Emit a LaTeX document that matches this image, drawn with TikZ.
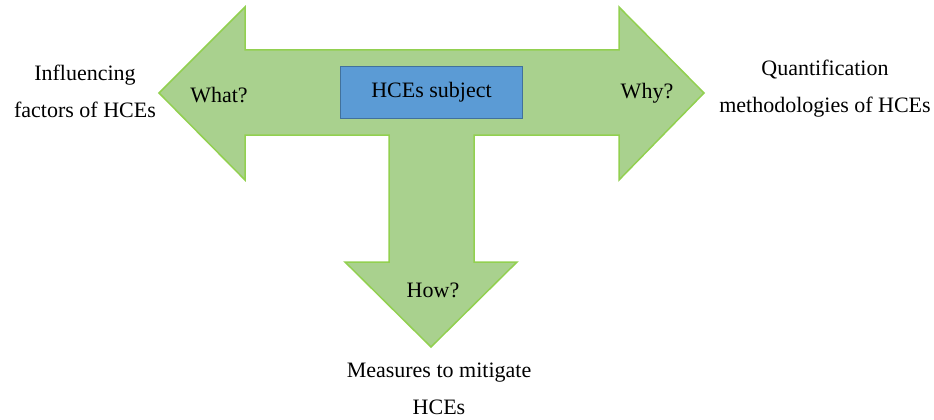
\documentclass[tikz,border=0pt]{standalone}
\usepackage{fontspec}
\setmainfont{Liberation Serif}
\usetikzlibrary{positioning}

\begin{document}
\begin{tikzpicture}[x=1pt, y=-1pt,
    %Looks of the shapes
    inner sep=0pt, outer sep=0pt,%
    bigarrow/.style={fill=arrowfill, draw=arrowline, line width=1.5pt, line join=miter},
    subjectbox/.style={fill=boxfill, draw=boxline, line width=1.5pt, minimum width=182pt, minimum height=52pt},
    word/.style={font=\fontsize{22}{37}\selectfont, align=center},
]
    % Colors
    \definecolor{arrowfill}{HTML}{A9D18E}
    \definecolor{arrowline}{HTML}{92D050}
    \definecolor{boxfill}{HTML}{5B9BD5}
    \definecolor{boxline}{HTML}{41719C}

    % Frame
    \useasboundingbox (0,0) rectangle (934,420);

    % Three way arrow
    \draw[bigarrow] (159,93) -- (245,7) -- (245,50) -- (619,50) -- (619,7) -- (704,93)
        -- (619,180) -- (619,135) -- (474,135) -- (474,262) -- (517,262)
        -- (431,347) -- (345,262) -- (389,262) -- (389,135) -- (245,135)
        -- (245,180) -- cycle;

    % Subject in the middle
    \node[subjectbox, word] (subject) at (431.5,92.5) {HCEs subject};

    % Questions on the arrow heads
    \node[word] (what) at (219,95) {What?};
    \node[word] (why)  at (647,93) {Why?};
    \node[word] (how)  at (433,290) {How?};

    % Texts outside
    \node[word] (factors) at (85,91) {Influencing\\factors of HCEs};
    \node[word] (quant)   at (825,89) {Quantification\\methodologies of HCEs};
    \node[word] (measures) at (439,389) {Measures to mitigate\\HCEs};
\end{tikzpicture}
\end{document}
